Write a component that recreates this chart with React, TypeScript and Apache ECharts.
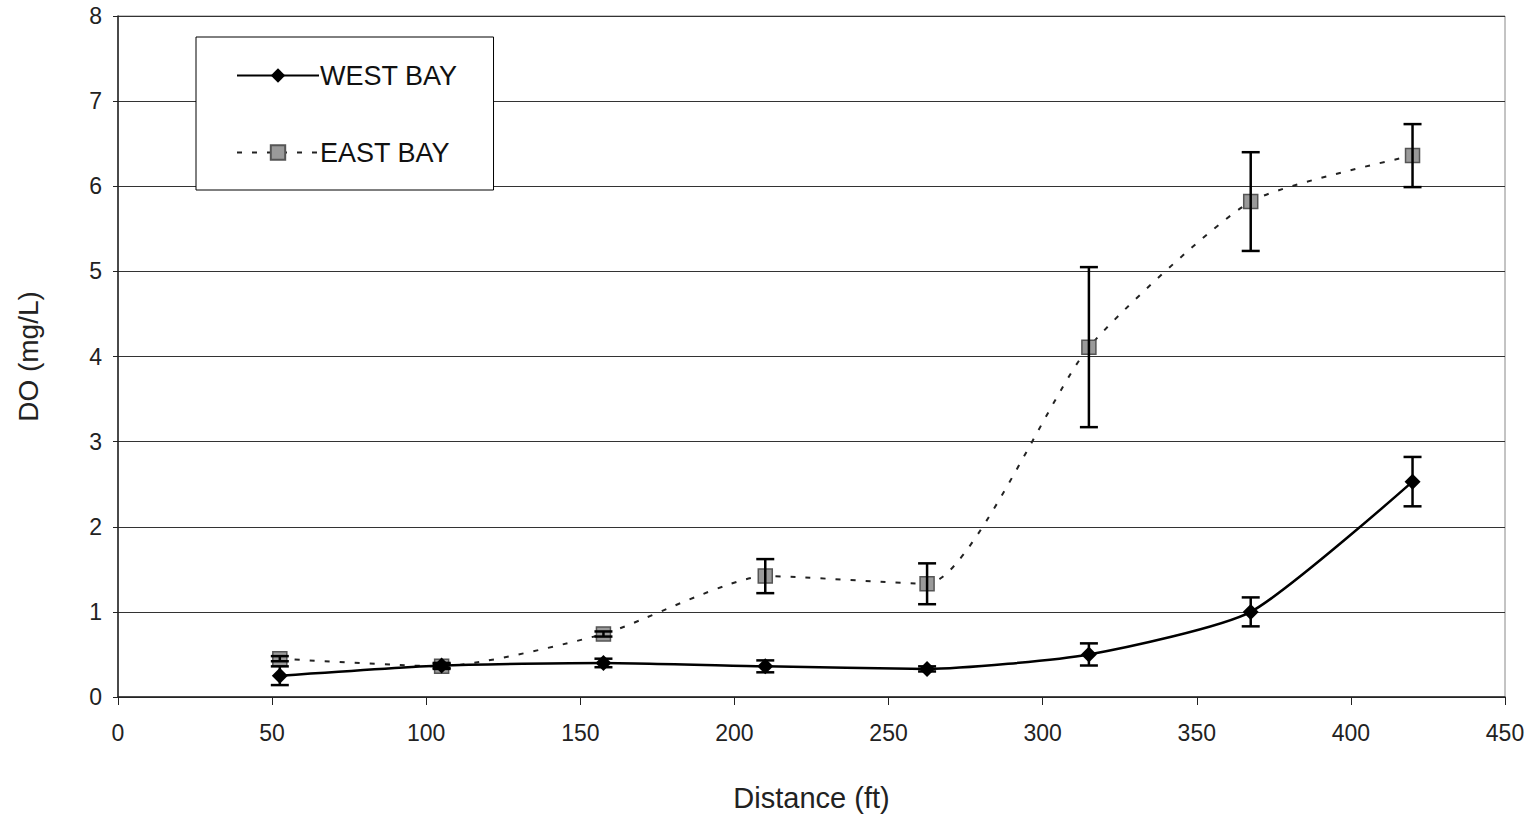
import React, { useEffect, useRef } from "react";
import * as echarts from "echarts";

const distances = [52.5, 105, 157.5, 210, 262.5, 315, 367.5, 420];
const westBay = [0.25, 0.37, 0.4, 0.36, 0.33, 0.5, 1.0, 2.53];
const westErr = [0.11, 0.03, 0.05, 0.07, 0.03, 0.13, 0.17, 0.29];
const eastBay = [0.45, 0.36, 0.74, 1.42, 1.33, 4.11, 5.82, 6.36];
const eastErr = [0.03, 0.03, 0.03, 0.2, 0.24, 0.94, 0.58, 0.37];

const FONT = "'Liberation Sans', Arial, sans-serif";

function errorSeries(name: string, vals: number[], errs: number[]) {
  const data = distances.map((d, i) => [d, vals[i] - errs[i], vals[i] + errs[i]]);
  return {
    type: "custom",
    name: name + " err",
    z: 5,
    silent: true,
    data,
    encode: { x: 0, y: [1, 2] },
    renderItem: (params: any, api: any) => {
      const x = api.value(0);
      const lo = api.coord([x, api.value(1)]);
      const hi = api.coord([x, api.value(2)]);
      const cap = 9;
      const style = { stroke: "#000", lineWidth: 2.5 };
      return {
        type: "group",
        children: [
          { type: "line", shape: { x1: lo[0], y1: lo[1], x2: hi[0], y2: hi[1] }, style },
          { type: "line", shape: { x1: lo[0] - cap, y1: lo[1], x2: lo[0] + cap, y2: lo[1] }, style },
          { type: "line", shape: { x1: hi[0] - cap, y1: hi[1], x2: hi[0] + cap, y2: hi[1] }, style },
        ],
      };
    },
  };
}

export default function App() {
  const ref = useRef<HTMLDivElement>(null);
  useEffect(() => {
    if (!ref.current) return;
    const chart = echarts.init(ref.current, undefined, { renderer: "svg" });
    chart.setOption({
      animation: false,
      backgroundColor: "#fff",
      textStyle: { fontFamily: FONT },
      grid: {
        left: 118,
        right: 33,
        top: 16,
        bottom: 121,
        show: true,
        borderColor: "#888",
        borderWidth: 1,
        backgroundColor: "transparent",
      },
      legend: {
        left: 196,
        top: 37,
        orient: "vertical",
        padding: [25, 36, 24, 40],
        itemGap: 50,
        itemWidth: 82,
        itemHeight: 18,
        borderColor: "#000",
        borderWidth: 1,
        backgroundColor: "#fff",
        textStyle: { fontFamily: FONT, fontSize: 27, color: "#111", padding: [0, 0, 0, -4] },
        data: ["WEST BAY", "EAST BAY"],
      },
      xAxis: {
        type: "value",
        min: 0,
        max: 450,
        interval: 50,
        axisLine: { show: true, lineStyle: { color: "#222", width: 1.5 } },
        axisTick: { show: true, length: 8, lineStyle: { color: "#222" } },
        axisLabel: { fontFamily: FONT, fontSize: 23, color: "#222", margin: 24 },
        splitLine: { show: false },
        name: "Distance (ft)",
        nameLocation: "middle",
        nameGap: 86,
        nameTextStyle: { fontFamily: FONT, fontSize: 29, color: "#222" },
      },
      yAxis: {
        type: "value",
        min: 0,
        max: 8,
        interval: 1,
        axisLine: { show: true, lineStyle: { color: "#222", width: 1.5 } },
        axisTick: { show: true, length: 5, lineStyle: { color: "#222" } },
        axisLabel: { fontFamily: FONT, fontSize: 23, color: "#222", margin: 16 },
        splitLine: { show: true, lineStyle: { color: "#333", width: 1 } },
        name: "DO (mg/L)",
        nameLocation: "middle",
        nameGap: 76,
        nameTextStyle: { fontFamily: FONT, fontSize: 28, color: "#222" },
      },
      series: [
        {
          name: "WEST BAY",
          type: "line",
          z: 4,
          smooth: 0.2,
          data: distances.map((d, i) => [d, westBay[i]]),
          symbol: "diamond",
          symbolSize: 16,
          itemStyle: { color: "#000" },
          lineStyle: { color: "#000", width: 2.5 },
        },
        {
          name: "EAST BAY",
          type: "line",
          z: 3,
          smooth: 0.2,
          data: distances.map((d, i) => [d, eastBay[i]]),
          symbol: "rect",
          symbolSize: 14,
          itemStyle: { color: "#9a9a9a", borderColor: "#555", borderWidth: 1.5 },
          lineStyle: { color: "#222", width: 2, type: [5, 10] },
        },
        errorSeries("WEST BAY", westBay, westErr),
        errorSeries("EAST BAY", eastBay, eastErr),
      ],
    });
    return () => chart.dispose();
  }, []);
  return <div ref={ref} style={{ width: 1538, height: 818, position: "absolute", left: 0, top: 0 }} />;
}
